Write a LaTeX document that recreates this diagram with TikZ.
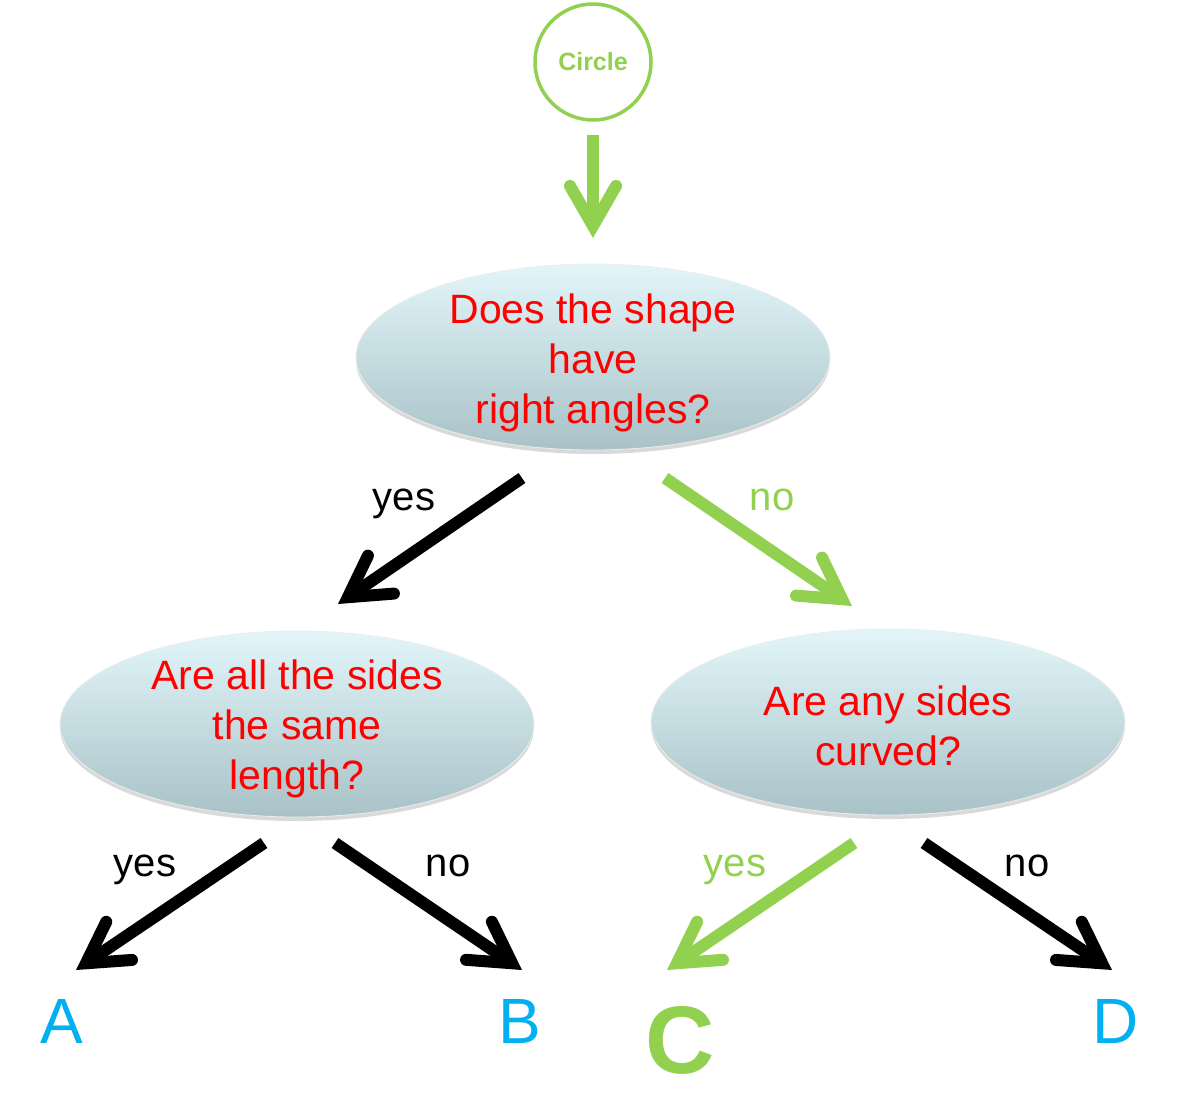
\documentclass[tikz,border=0pt]{standalone}
\usepackage{fontspec}
\setmainfont{Liberation Sans}
\usetikzlibrary{arrows.meta,shapes.geometric,shadows}
\definecolor{lgreen}{HTML}{92D050}
\definecolor{lblue}{HTML}{00B0F0}
\definecolor{qred}{HTML}{FF0000}
\definecolor{ellTop}{HTML}{E2F6FA}
\definecolor{ellBot}{HTML}{A8C2C7}
\tikzset{
  qbox/.style={ellipse, minimum width=474pt, minimum height=186pt, inner sep=0pt,
    top color=ellTop, bottom color=ellBot, draw=white!85!gray, line width=0.8pt,
    drop shadow={shadow xshift=0pt, shadow yshift=-4pt, opacity=0.15, fill=black}},
  qtext/.style={text=qred, align=center, inner sep=0pt, font=\fontsize{41}{50}\selectfont},
  bigarrow/.style={line width=12pt, -{Straight Barb[length=40pt, width=46pt, line cap=round, line join=miter]}},
  lab/.style={anchor=base, font=\fontsize{40}{48}\selectfont},
  leaf/.style={anchor=base, text=lblue, font=\fontsize{64}{70}\selectfont, inner sep=0pt},
}
\begin{document}
\begin{tikzpicture}[x=1pt,y=-1pt]
\useasboundingbox (0,0) rectangle (1182,1109);
% start circle
\node[circle, draw=lgreen, line width=3.5pt, minimum size=116pt, inner sep=0pt,
      text=lgreen, font=\fontsize{25}{28}\selectfont\bfseries] (start) at (593,62) {Circle};
% question ellipses
\node[qbox] (q1) at (593,357) {};
\node[qbox] (q2) at (297,724) {};
\node[qbox] (q3) at (888,722) {};
\node[qtext] (t1) at ([yshift=-6pt]q1.center) {Does the shape\\have\\right angles?};
\node[qtext] (t2) at ([yshift=-5pt]q2.center) {Are all the sides\\the same\\length?};
\node[qtext] (t3) at ([yshift=-4pt]q3.center) {Are any sides\\curved?};
% leaves
\node[leaf] (A) at (62,1043) {A};
\node[leaf] (B) at (520,1043) {B};
\node[anchor=base, text=lgreen, font=\fontsize{96}{100}\selectfont\bfseries, inner sep=0pt] (C) at (680,1073) {C};
\node[leaf] (D) at (1116,1043) {D};
% arrow end points
\coordinate (s0) at (593,135);  \coordinate (s1) at (593,238);
\coordinate (a0) at (522,478);  \coordinate (a1) at (338,604);
\coordinate (b0) at (665,478);  \coordinate (b1) at (852,606);
\coordinate (c0) at (264,843);  \coordinate (c1) at (76,970);
\coordinate (d0) at (335,843);  \coordinate (d1) at (522,970);
\coordinate (e0) at (854,843);  \coordinate (e1) at (667,970);
\coordinate (f0) at (924,843);  \coordinate (f1) at (1112,970);
% arrows
\draw[bigarrow, lgreen] (s0) -- (s1);
\draw[bigarrow, black] (a0) -- (a1);
\draw[bigarrow, lgreen] (b0) -- (b1);
\draw[bigarrow, black] (c0) -- (c1);
\draw[bigarrow, black] (d0) -- (d1);
\draw[bigarrow, lgreen] (e0) -- (e1);
\draw[bigarrow, black] (f0) -- (f1);
% labels
\node[lab] (ly1) at (404,510) {yes};
\node[lab, text=lgreen] (ln1) at (772,510) {no};
\node[lab] (ly2) at (145,876) {yes};
\node[lab] (ln2) at (448,876) {no};
\node[lab, text=lgreen] (ly3) at (735,876) {yes};
\node[lab] (ln3) at (1027,876) {no};
\end{tikzpicture}
\end{document}
